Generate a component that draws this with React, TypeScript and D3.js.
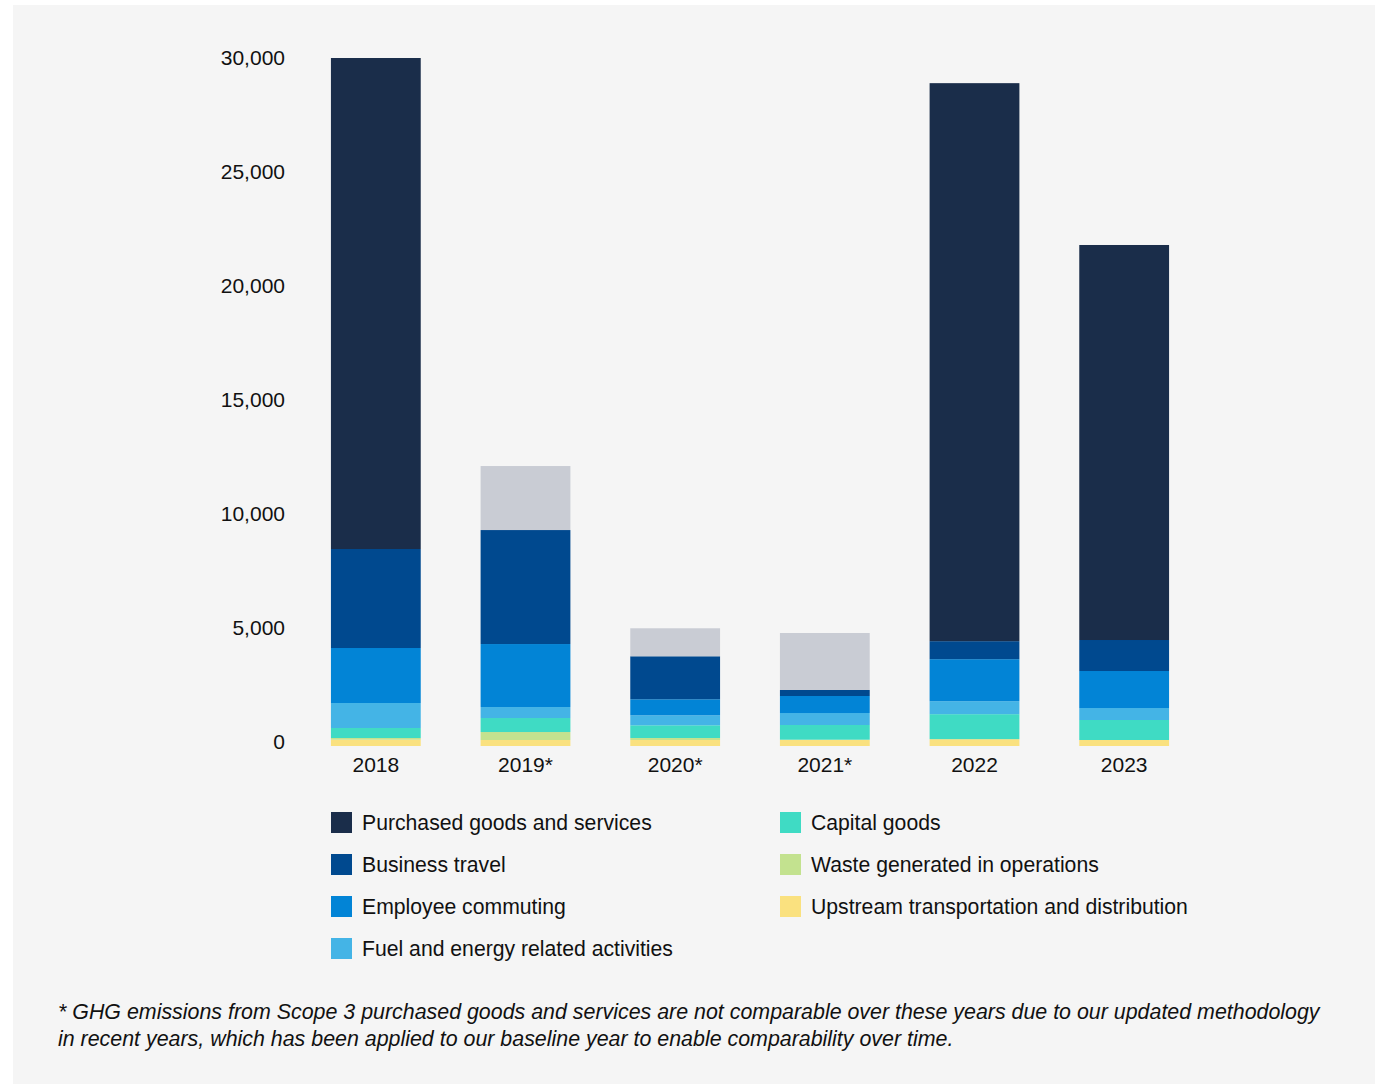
import React from "react";
import * as d3 from "d3";

const years = ["2018", "2019*", "2020*", "2021*", "2022", "2023"];

const upstream = [276, 263, 263, 276, 300, 263];
const waste = [75, 350, 88, 0, 0, 0];
const capital = [439, 614, 557, 645, 1096, 877];
const fuel = [1096, 482, 439, 526, 570, 526];
const commuting = [2412, 2763, 702, 746, 1842, 1623];
const business = [4342, 5000, 1886, 263, 790, 1360];
const purchased = [21535, 0, 0, 0, 24474, 17325];
const purchasedNotComparable = [0, 2807, 1228, 2500, 0, 0];

const yTicks = [0, 5000, 10000, 15000, 20000, 25000, 30000];

const seriesNames = [
  "Upstream transportation and distribution",
  "Waste generated in operations",
  "Capital goods",
  "Fuel and energy related activities",
  "Employee commuting",
  "Business travel",
  "Purchased goods and services",
  "Purchased goods and services (not comparable)",
];
const seriesValues = [upstream, waste, capital, fuel, commuting, business, purchased, purchasedNotComparable];
const seriesColors = ["#fae17f", "#c3e28f", "#3fdbc4", "#44b4e6", "#0284d6", "#00498f", "#1a2d4a", "#c9ccd4"];

const legendLeft = [
  "Purchased goods and services",
  "Business travel",
  "Employee commuting",
  "Fuel and energy related activities",
];
const legendRight = [
  "Capital goods",
  "Waste generated in operations",
  "Upstream transportation and distribution",
];

const footnoteLines = [
  "* GHG emissions from Scope 3 purchased goods and services are not comparable over these years due to our updated methodology",
  "in recent years, which has been applied to our baseline year to enable comparability over time.",
];

const FONT = "'Liberation Sans', Arial, sans-serif";

export default function App() {
  const W = 1379;
  const H = 1084;
  const x = d3.scaleBand<string>().domain(years).range([301, 1199]).paddingInner(0.4).paddingOuter(0.2);
  const y = d3.scaleLinear().domain([0, 30000]).range([746, 62]);

  const table = years.map((yr, i) => {
    const row: any = { year: yr };
    seriesNames.forEach((n, k) => (row[n] = seriesValues[k][i]));
    return row;
  });
  const stacked = d3.stack<any>().keys(seriesNames)(table);
  const colorOf = (name: string) => seriesColors[seriesNames.indexOf(name)];

  return (
    <svg width={W} height={H} style={{ position: "absolute", left: 0, top: 0, display: "block" }} fontFamily={FONT}>
      <rect x={0} y={0} width={W} height={H} fill="#ffffff" />
      <rect x={13} y={5} width={1362} height={1079} fill="#f5f5f5" />
      {yTicks.map((t) => (
        <text key={t} x={285} y={y(t) - 4.5} textAnchor="end" dominantBaseline="central" fontSize={21} fill="#111">
          {d3.format(",")(t)}
        </text>
      ))}
      {stacked.map((s) => (
        <g key={s.key} fill={colorOf(s.key)}>
          {s.map((d, i) =>
            d[1] - d[0] > 0 ? (
              <rect
                key={i}
                x={x(years[i])}
                y={y(d[1])}
                width={x.bandwidth()}
                height={y(d[0]) - y(d[1])}
              />
            ) : null
          )}
        </g>
      ))}
      {years.map((yr) => (
        <text
          key={yr}
          x={(x(yr) as number) + x.bandwidth() / 2}
          y={764.5}
          textAnchor="middle"
          dominantBaseline="central"
          fontSize={21}
          fill="#111"
        >
          {yr}
        </text>
      ))}
      {legendLeft.map((n, i) => (
        <g key={n} transform={`translate(331, ${812 + i * 42})`}>
          <rect width={21} height={21} fill={colorOf(n)} />
          <text x={31} y={10.5} dominantBaseline="central" fontSize={21.2} fill="#111">
            {n}
          </text>
        </g>
      ))}
      {legendRight.map((n, i) => (
        <g key={n} transform={`translate(780, ${812 + i * 42})`}>
          <rect width={21} height={21} fill={colorOf(n)} />
          <text x={31} y={10.5} dominantBaseline="central" fontSize={21.2} fill="#111">
            {n}
          </text>
        </g>
      ))}
      {footnoteLines.map((l, i) => (
        <text key={i} x={58} y={1012 + i * 27} dominantBaseline="central" fontSize={21.4} fontStyle="italic" fill="#111">
          {l}
        </text>
      ))}
    </svg>
  );
}
